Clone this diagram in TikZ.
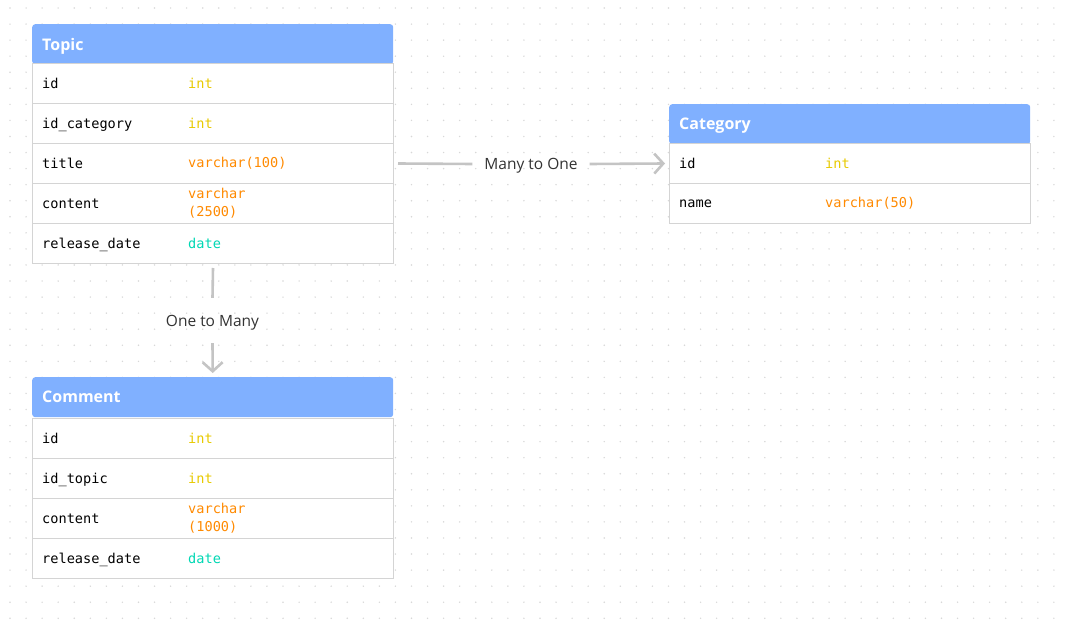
\documentclass[tikz,border=0pt]{standalone}
\usepackage{fontspec}
\setmainfont{Open Sans}
\setmonofont{DejaVu Sans Mono}
\usetikzlibrary{arrows.meta}
\definecolor{hdrblue}{HTML}{80B0FF}
\definecolor{rowgray}{HTML}{D4D4D4}
\definecolor{dotgray}{HTML}{D8D8D8}
\definecolor{conngray}{HTML}{C4C4C4}
\definecolor{tint}{HTML}{E8CA00}
\definecolor{tvarchar}{HTML}{FF8A00}
\definecolor{tdate}{HTML}{00D8B4}
\definecolor{lbltext}{HTML}{333333}
\newcommand{\erow}[6]{%
  \node[rowbox] (#1) at (#2,#3) {};
  \node[fld] (#1-f) at ([xshift=10pt]#1.west) {#4};
  \node[typ, text=#6] (#1-t) at ([xshift=156pt]#1.west) {#5};
}
\begin{document}
\begin{tikzpicture}[x=1pt,y=-1pt,
  hdr/.style={fill=hdrblue, rounded corners=3pt, anchor=north west, minimum height=40pt,
    text width=341pt, inner xsep=10pt, inner ysep=0pt, align=left, text depth=0pt,
    font=\fontsize{16}{18}\selectfont\bfseries, text=white},
  rowbox/.style={draw=rowgray, fill=white, anchor=north west, minimum width=361pt,
    minimum height=40pt, inner sep=0pt, line width=1pt},
  fld/.style={anchor=west, inner sep=0pt, text depth=0pt, font=\ttfamily\fontsize{13.6}{18}\selectfont, text=black},
  typ/.style={anchor=west, inner sep=0pt, align=left, font=\ttfamily\fontsize{13.6}{18}\selectfont},
  conn/.style={draw=conngray, line width=2.6pt},
  tip/.style={-{Straight Barb[length=9pt,width=20pt]}},
  lbl/.style={font=\fontsize{15.5}{18}\selectfont, text=lbltext, inner sep=0pt, text depth=0pt}
]
\useasboundingbox (0,0) rectangle (1065,620);
\fill[white] (0,0) rectangle (1065,620);
\foreach \i in {0,...,65}
  \foreach \j in {0,...,38}
    \fill[dotgray] (10+\i*16.06, 8+\j*16.06) circle[radius=0.8pt];

% Topic
\node[hdr] (thdr) at (32,24) {Topic};
\erow{tid}{32}{63}{id}{int}{tint}
\erow{tcat}{32}{103}{id\_category}{int}{tint}
\erow{ttitle}{32}{143}{title}{varchar(100)}{tvarchar}
\erow{tcont}{32}{183}{content}{varchar\\(2500)}{tvarchar}
\erow{trel}{32}{223}{release\_date}{date}{tdate}

% Category
\node[hdr] (chdr) at (669,104) {Category};
\erow{cid}{669}{143}{id}{int}{tint}
\erow{cname}{669}{183}{name}{varchar(50)}{tvarchar}

% Comment
\node[hdr] (mhdr) at (32,377) {Comment};
\erow{mid}{32}{418}{id}{int}{tint}
\erow{mtop}{32}{458}{id\_topic}{int}{tint}
\erow{mcont}{32}{498}{content}{varchar\\(1000)}{tvarchar}
\erow{mrel}{32}{538}{release\_date}{date}{tdate}

% connectors
\node[lbl, minimum width=117pt] (m2o) at (531,164) {Many to One};
\draw[conn] ([xshift=4pt]ttitle.east) -- (m2o.west);
\draw[conn, tip] (m2o.east) -- ([xshift=-4pt]cid.west);

\node[lbl, minimum height=45pt] (o2m) at (212.5,320.5) {One to Many};
\draw[conn] ([yshift=-4pt]trel.south) -- (o2m.north);
\draw[conn, tip] (o2m.south) -- ([yshift=4pt]mhdr.north);
\end{tikzpicture}
\end{document}
